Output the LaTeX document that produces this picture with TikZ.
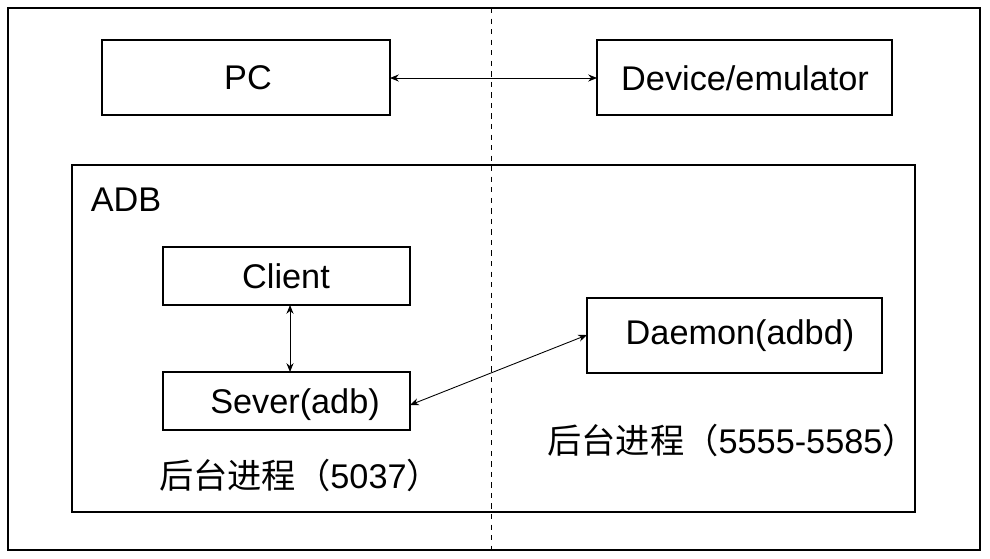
\documentclass[tikz,border=0pt]{standalone}
\usepackage{fontspec}
\setmainfont{Liberation Sans}
\newfontfamily\cjk{Noto Sans CJK SC}
\usetikzlibrary{arrows.meta}
\begin{document}
\begin{tikzpicture}[x=0.02cm,y=-0.02cm,
  box/.style={draw,line width=1pt,minimum height=0},
  lbl/.style={font=\fontsize{19.5}{23}\selectfont},
  arr/.style={{Stealth[length=5pt,width=4pt]}-{Stealth[length=5pt,width=4pt]},line width=0.5pt}]
\useasboundingbox (0,0) rectangle (990,558);
\draw[line width=1pt] (8,8) rectangle (980,550);
\draw[dashed,line width=0.5pt] (491,8) -- (491,550);
\draw[box] (102,40) rectangle (390,115);
\node[lbl] (pc) at (248,78) {PC};
\coordinate (pcr) at (390,78);
\draw[box] (597,40) rectangle (892,115);
\node[lbl] (dev) at (745,78) {Device/emulator};
\coordinate (devl) at (597,78);
\draw[arr] (pcr) -- (devl);
\draw[box] (72,165) rectangle (915,512);
\node[lbl] (adb) at (126,200) {ADB};
\draw[box] (163,247) rectangle (410,305);
\node[lbl] (cl) at (286,276) {Client};
\draw[box] (163,372) rectangle (410,430);
\node[lbl] (sv) at (295,405) {Sever(adb)};
\draw[arr] (290,305) -- (290,372);
\draw[box] (587,298) rectangle (882,373);
\node[lbl] (dm) at (740,336) {Daemon(adbd)};
\draw[arr] (410,405) -- (587,335);
\node[lbl] (t1) at (300,475) {{\cjk 后台进程（}5037{\cjk ）}};
\node[lbl] (t2) at (732,440) {{\cjk 后台进程（}5555-5585{\cjk ）}};
\end{tikzpicture}
\end{document}
